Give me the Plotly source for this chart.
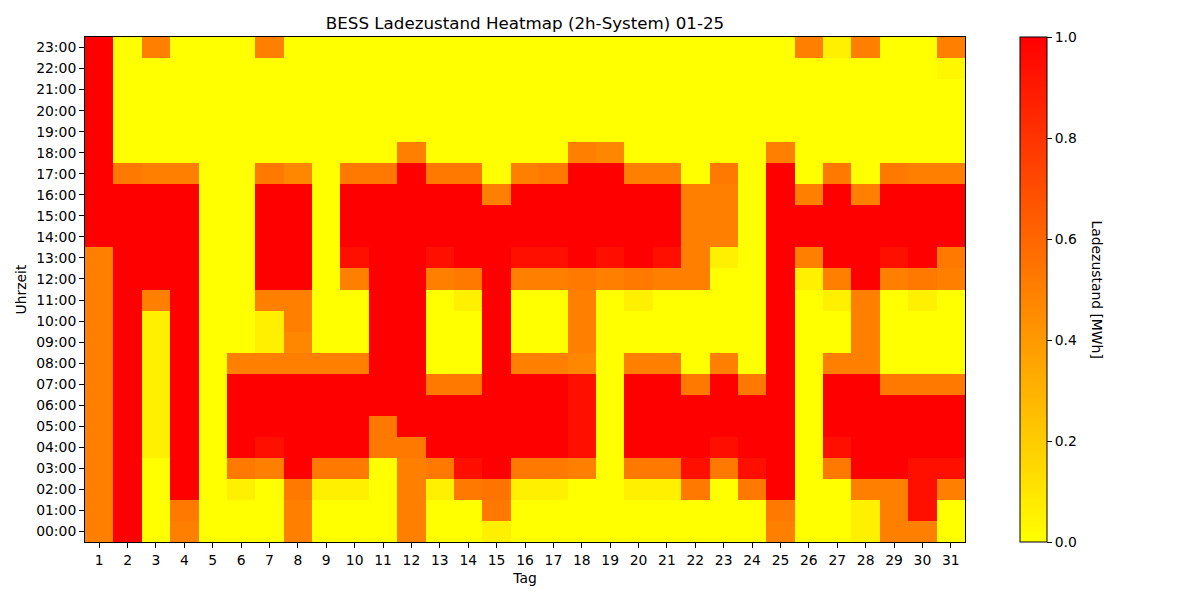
import plotly.graph_objects as go

days = list(range(1, 32))
hour_labels = [f"{h:02d}:00" for h in range(24)]

# state of charge [MWh] per hour (row) and day (column 1..31)
soc_by_hour = [
    # 00:00
    [0.5,1,0,0.5,0,0,0,0.5,0,0,0,0.5,0,0,0.06,0,0,0,0,0,0,0,0,0,0.5,0,0,0.06,0.5,0.5,0],
    # 01:00
    [0.5,1,0,0.53,0,0,0,0.5,0,0,0,0.5,0,0,0.53,0,0,0,0,0,0,0,0,0,0.53,0,0,0.06,0.5,0.94,0],
    # 02:00
    [0.5,1,0,1,0,0.06,0,0.53,0.06,0.06,0,0.5,0.06,0.53,0.55,0.06,0.06,0,0,0.06,0.06,0.53,0,0.53,1,0,0,0.5,0.5,0.94,0.5],
    # 03:00
    [0.5,1,0,1,0,0.53,0.5,1,0.53,0.53,0,0.5,0.53,0.94,1,0.53,0.53,0.5,0,0.53,0.53,0.94,0.53,0.94,1,0,0.53,1,1,0.94,0.94],
    # 04:00
    [0.5,1,0.06,1,0,1,0.94,1,1,1,0.53,0.53,1,1,1,1,1,0.94,0,1,1,1,0.94,1,1,0,0.94,1,1,1,1],
    # 05:00
    [0.5,1,0.06,1,0,1,1,1,1,1,0.53,1,1,1,1,1,1,0.94,0,1,1,1,1,1,1,0,1,1,1,1,1],
    # 06:00
    [0.5,1,0.06,1,0,1,1,1,1,1,1,1,1,1,1,1,1,0.94,0,1,1,1,1,1,1,0,1,1,1,1,1],
    # 07:00
    [0.5,1,0.06,1,0,1,1,1,1,1,1,1,0.53,0.53,1,1,1,0.94,0,1,1,0.53,1,0.53,1,0,1,1,0.53,0.53,0.53],
    # 08:00
    [0.5,1,0.06,1,0,0.5,0.5,0.5,0.5,0.5,1,1,0,0,1,0.5,0.5,0.47,0,0.5,0.5,0,0.5,0,1,0,0.5,0.5,0,0,0],
    # 09:00
    [0.5,1,0.06,1,0,0,0.06,0.47,0,0,1,1,0,0,1,0,0,0.5,0,0,0,0,0,0,1,0,0,0.5,0,0,0],
    # 10:00
    [0.5,1,0.06,1,0,0,0.06,0.5,0,0,1,1,0,0,1,0,0,0.5,0,0,0,0,0,0,1,0,0,0.5,0,0,0],
    # 11:00
    [0.5,1,0.5,1,0,0,0.5,0.5,0,0,1,1,0,0.06,1,0,0,0.5,0,0.06,0,0,0,0,1,0,0.06,0.5,0,0.06,0],
    # 12:00
    [0.5,1,1,1,0,0,1,1,0,0.5,1,1,0.5,0.53,1,0.5,0.5,0.53,0.5,0.53,0.5,0.5,0,0,1,0.06,0.5,1,0.5,0.53,0.5],
    # 13:00
    [0.5,1,1,1,0,0,1,1,0,0.94,1,1,0.94,1,1,0.94,0.94,1,0.94,1,0.94,0.5,0.06,0,1,0.5,1,1,0.94,1,0.53],
    # 14:00
    [1,1,1,1,0,0,1,1,0,1,1,1,1,1,1,1,1,1,1,1,1,0.5,0.5,0,1,1,1,1,1,1,1],
    # 15:00
    [1,1,1,1,0,0,1,1,0,1,1,1,1,1,1,1,1,1,1,1,1,0.5,0.5,0,1,1,1,1,1,1,1],
    # 16:00
    [1,1,1,1,0,0,1,1,0,1,1,1,1,1,0.5,1,1,1,1,1,1,0.5,0.5,0,1,0.5,1,0.5,1,1,1],
    # 17:00
    [1,0.53,0.5,0.5,0,0,0.53,0.47,0,0.53,0.53,1,0.53,0.53,0,0.5,0.53,1,1,0.5,0.5,0,0.53,0,1,0,0.53,0,0.53,0.5,0.5],
    # 18:00
    [1,0,0,0,0,0,0,0,0,0,0,0.5,0,0,0,0,0,0.5,0.47,0,0,0,0,0,0.5,0,0,0,0,0,0],
    # 19:00
    [1,0,0,0,0,0,0,0,0,0,0,0,0,0,0,0,0,0,0,0,0,0,0,0,0,0,0,0,0,0,0],
    # 20:00
    [1,0,0,0,0,0,0,0,0,0,0,0,0,0,0,0,0,0,0,0,0,0,0,0,0,0,0,0,0,0,0],
    # 21:00
    [1,0,0,0,0,0,0,0,0,0,0,0,0,0,0,0,0,0,0,0,0,0,0,0,0,0,0,0,0,0,0],
    # 22:00
    [1,0,0,0,0,0,0,0,0,0,0,0,0,0,0,0,0,0,0,0,0,0,0,0,0,0,0,0,0,0,0.03],
    # 23:00
    [1,0,0.5,0,0,0,0.5,0,0,0,0,0,0,0,0,0,0,0,0,0,0,0,0,0,0,0.5,0.06,0.5,0,0,0.5],
]

title_text = "BESS Ladezustand Heatmap (2h-System) 01-25"
cbar_label = "Ladezustand [MWh]"

FONT = "DejaVu Sans"

fig = go.Figure(
    go.Heatmap(
        z=soc_by_hour,
        x=days,
        y=list(range(24)),
        zmin=0,
        zmax=1,
        colorscale=[[0, "rgb(255,255,0)"], [1, "rgb(255,0,0)"]],
        colorbar=dict(
            x=(1020 - 85) / 880,
            xanchor="left",
            xpad=0,
            ypad=0,
            y=0.5,
            yanchor="middle",
            len=1,
            lenmode="fraction",
            thickness=27,
            thicknessmode="pixels",
            outlinewidth=1,
            outlinecolor="black",
            ticks="outside",
            ticklen=5,
            tickcolor="black",
            tick0=0,
            dtick=0.2,
            tickformat=".1f",
            tickfont=dict(family=FONT, size=13.9, color="black"),
        ),
        hoverongaps=False,
    )
)

# page body adds an 8px offset; margins compensate
fig.update_layout(
    width=1200,
    height=600,
    margin=dict(l=77, r=243, t=29, b=66),
    paper_bgcolor="white",
    plot_bgcolor="white",
    font=dict(family=FONT, color="black"),
    title=dict(
        text=title_text,
        x=517 / 1200,
        xanchor="center",
        y=1 - 15 / 600,
        yanchor="middle",
        font=dict(family=FONT, size=16.7, color="black"),
    ),
    annotations=[
        dict(
            text=cbar_label,
            x=(1097 - 85) / 880,
            y=0.5,
            xref="paper",
            yref="paper",
            showarrow=False,
            textangle=90,
            font=dict(family=FONT, size=13.9, color="black"),
            xanchor="center",
            yanchor="middle",
        )
    ],
)

fig.update_xaxes(
    range=[0.5, 31.5],
    tickmode="array",
    tickvals=days,
    ticktext=[str(d) for d in days],
    ticks="outside",
    ticklen=5,
    tickcolor="black",
    showline=True,
    linecolor="black",
    linewidth=1,
    mirror=True,
    showgrid=False,
    zeroline=False,
    tickfont=dict(family=FONT, size=13.9, color="black"),
    title=dict(text="Tag", font=dict(family=FONT, size=13.9, color="black"), standoff=6),
)
fig.update_yaxes(
    range=[-0.5, 23.5],
    tickmode="array",
    tickvals=list(range(24)),
    ticktext=hour_labels,
    ticks="outside",
    ticklen=5,
    tickcolor="black",
    showline=True,
    linecolor="black",
    linewidth=1,
    mirror=True,
    showgrid=False,
    zeroline=False,
    tickfont=dict(family=FONT, size=13.9, color="black"),
    title=dict(text="Uhrzeit", font=dict(family=FONT, size=13.9, color="black"), standoff=6),
)

fig.write_html("out.html")
